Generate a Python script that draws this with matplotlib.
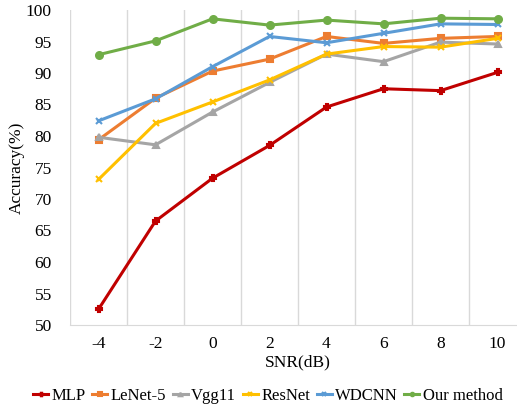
import numpy as np
import matplotlib
matplotlib.use("Agg")
import matplotlib.pyplot as plt

plt.rcParams['font.family'] = ['Liberation Serif', 'DejaVu Serif']

snr = [-4, -2, 0, 2, 4, 6, 8, 10]
mlp = [52.5, 66.5, 73.3, 78.5, 84.6, 87.5, 87.2, 90.1]
lenet = [79.4, 86.0, 90.3, 92.2, 95.8, 94.7, 95.5, 95.8]
vgg = [79.8, 78.6, 83.8, 88.5, 93.0, 91.8, 94.9, 94.6]
resnet = [73.1, 82.0, 85.4, 88.9, 93.0, 94.2, 94.1, 95.5]
wdcnn = [82.4, 85.9, 91.0, 95.8, 94.8, 96.3, 97.8, 97.7]
ours = [92.9, 95.1, 98.6, 97.6, 98.4, 97.8, 98.7, 98.6]

series = [
    ("MLP", mlp, "#C00000", "P"),
    ("LeNet-5", lenet, "#ED7D31", "s"),
    ("Vgg11", vgg, "#A5A5A5", "^"),
    ("ResNet", resnet, "#FFC000", "x"),
    ("WDCNN", wdcnn, "#5B9BD5", "x"),
    ("Our method", ours, "#70AD47", "o"),
]

fig = plt.figure(figsize=(5.17, 4.12), dpi=100)
ax = fig.add_axes([70/517, 1-325/412, 456/517, 315/412])
x = np.arange(len(snr))
for name, vals, c, m in series:
    ax.plot(x, vals, color=c, lw=2.2, marker=m, markersize=5, mew=1.5, label=name)

ax.set_xlim(-0.5, len(snr) - 0.5)
ax.set_ylim(50, 100)
ax.set_yticks(np.arange(50, 101, 5))
ax.set_xticks(x)
ax.set_xticklabels([str(s) for s in snr])
ax.set_xticks(np.arange(-0.5, len(snr), 1), minor=True)
ax.grid(which='minor', axis='x', color='#D9D9D9', lw=1)
ax.tick_params(which='both', length=0, labelsize=12.5)
ax.tick_params(axis='x', pad=8)
ax.tick_params(axis='y', pad=13)
for s in ['top', 'right', 'left']:
    ax.spines[s].set_visible(False)
ax.spines['bottom'].set_color('#D9D9D9')
ax.set_xlabel("SNR(dB)", fontsize=12.5, labelpad=2)
ax.set_ylabel("Accuracy(%)", fontsize=12.5, labelpad=1)

fig.legend(loc='center', bbox_to_anchor=(268/517, 1-396/412), ncol=6, frameon=False,
           fontsize=12, handlelength=0.9, handletextpad=0.2, columnspacing=0.4,
           markerscale=0.5)

fig.savefig("out.png", dpi=100)
